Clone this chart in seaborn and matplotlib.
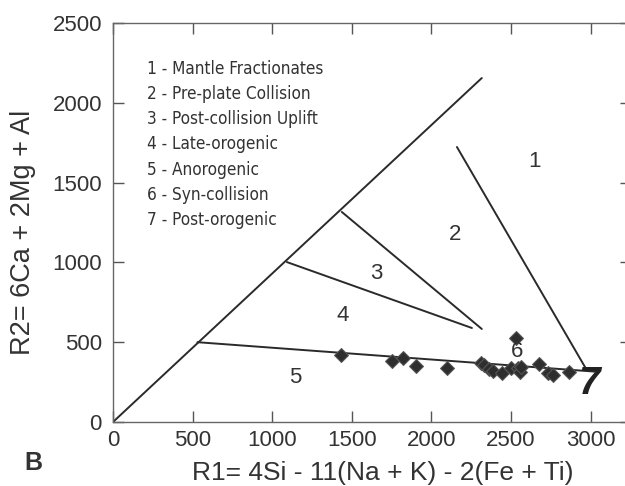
import pandas as pd
import numpy as np
import matplotlib
matplotlib.use('Agg')
import matplotlib.pyplot as plt
import seaborn as sns

# data
r1 = [1430, 1755, 1820, 1900, 2095, 2310, 2330, 2360, 2385, 2445,
      2500, 2530, 2545, 2555, 2565, 2675, 2735, 2765, 2865]
r2 = [418, 380, 399, 353, 340, 372, 355, 332, 320, 309,
      336, 526, 338, 313, 347, 365, 309, 294, 313]

# field boundaries (start / end points)
seg_names = ['diag', 'b5', 'b12', 'b23', 'b34']
seg_x0 = [0, 530, 2160, 1437, 1092]
seg_y0 = [0, 500, 1723, 1316, 1002]
seg_x1 = [2316, 3035, 2975, 2316, 2254]
seg_y1 = [2155, 315, 326, 583, 589]

field_labels = ['1', '2', '3', '4', '5', '6']
field_x = [2650, 2147, 1651, 1444, 1143, 2537]
field_y = [1630, 1172, 933, 670, 276, 439]

legend_lines = ['1 - Mantle Fractionates', '2 - Pre-plate Collision',
                '3 - Post-collision Uplift', '4 - Late-orogenic',
                '5 - Anorogenic', '6 - Syn-collision', '7 - Post-orogenic']

sns.set_style('ticks')
plt.rcParams['font.family'] = ['Liberation Sans', 'DejaVu Sans']

fig = plt.figure(figsize=(6.25, 4.86), dpi=100)
ax = fig.add_axes([0.1808, 0.1317, 0.828, 0.821])

df_seg = pd.DataFrame({'seg': seg_names * 2,
                       'x': seg_x0 + seg_x1,
                       'y': seg_y0 + seg_y1})
for name, g in df_seg.groupby('seg'):
    ax.plot(g['x'], g['y'], color='#2a2a2a', lw=1.4)

df_pts = pd.DataFrame({'R1': r1, 'R2': r2})
sns.scatterplot(data=df_pts, x='R1', y='R2', marker='D', s=50,
                color='#2e2e2e', edgecolor='#555555', linewidth=0.8,
                ax=ax, zorder=3)

for lab, x, y in zip(field_labels, field_x, field_y):
    ax.text(x, y, lab, fontsize=16, color='#333333', ha='center', va='center')
ax.text(2990, 235, '7', fontsize=28, color='#222222', ha='center',
        va='center', fontweight='bold', style='italic')

for i, line in enumerate(legend_lines):
    ax.text(213, 2210 - i * 157, line, fontsize=12.3, color='#333333',
            va='center', family='DejaVu Sans', fontstretch='condensed')

ax.set_xlim(0, 3250)
ax.set_ylim(0, 2500)
ax.set_xticks([0, 500, 1000, 1500, 2000, 2500, 3000])
ax.set_yticks([0, 500, 1000, 1500, 2000, 2500])
ax.tick_params(direction='in', length=8, width=1, color='#555555',
               labelsize=16, labelcolor='#333333', top=True, right=True)
ax.tick_params(axis='y', pad=8)
ax.tick_params(axis='x', pad=6)
for sp in ax.spines.values():
    sp.set_color('#666666')
    sp.set_linewidth(1)

ax.set_xlabel('R1= 4Si - 11(Na + K) - 2(Fe + Ti)', fontsize=19, color='#333333')
ax.set_ylabel('R2= 6Ca + 2Mg + Al', fontsize=19.5, color='#333333')
ax.xaxis.set_label_coords(0.522, -0.098)
ax.yaxis.set_label_coords(-0.149, 0.476)
fig.text(0.053, 0.047, 'B', fontsize=18, fontweight='bold', color='#333333',
         ha='center', va='center')

fig.savefig('out.png', dpi=100)
